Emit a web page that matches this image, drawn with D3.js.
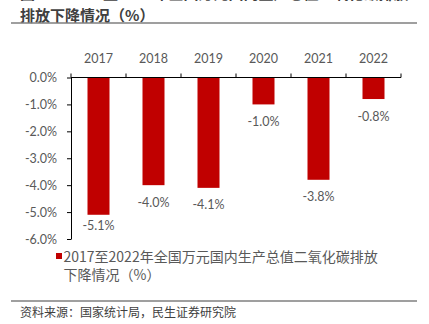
<!DOCTYPE html>
<html>
<head>
<meta charset="utf-8">
<script src="https://cdn.jsdelivr.net/npm/d3@7"></script>
<style>
  body { margin: 0; background: #fff; }
  svg { display: block; }
</style>
</head>
<body>
<div id="chart"></div>
<script>
// yearly drop in CO2 per 10k yuan GDP (%)
const years = ["2017", "2018", "2019", "2020", "2021", "2022"];
const values = [-5.1, -4.0, -4.1, -1.0, -3.8, -0.8];
const yTicks = [0, -1, -2, -3, -4, -5, -6];

const titleLines = ["图14：2017至2022年全国万元国内生产总值二氧化碳排放", "排放下降情况（%）"];
const legendLines = ["2017至2022年全国万元国内生产总值二氧化碳排放", "下降情况（%）"];
const sourceText = "资料来源：国家统计局，民生证券研究院";

const width = 429, height = 324;
const plot = { left: 71, right: 401, top: 77.5, bottom: 239 };

const numFont = "Lato, 'Liberation Sans', sans-serif";
const cjkFont = "'Noto Sans CJK SC', sans-serif";
const grey = "#595959";
const red = "#C00000";

let svg = d3.select("#chart").append("svg")
  .attr("width", width)
  .attr("height", height);

// header: title (first line runs off the top edge) and rule
svg.selectAll("text.title")
  .data(titleLines)
  .enter()
  .append("text")
    .attr("class", "title")
    .attr("x", 20)
    .attr("y", (d, i) => i == 0 ? -7.5 : 14)
    .attr("dominant-baseline", "central")
    .style("font-family", cjkFont)
    .style("font-size", "15px")
    .style("font-weight", "bold")
    .style("fill", "#404040")
    .text(d => d);

svg.append("line")
  .attr("x1", 11).attr("x2", 417)
  .attr("y1", 23).attr("y2", 23)
  .style("stroke", "#7f7f7f")
  .style("stroke-width", 1.6);

// scales
let xScale = d3.scaleBand()
  .domain(years)
  .range([plot.left, plot.right])
  .paddingInner(0.6)
  .paddingOuter(0.3);

let yScale = d3.scaleLinear()
  .domain([-6, 0])
  .range([plot.bottom, plot.top]);

// bars hang down from zero
svg.selectAll("rect.bar")
  .data(values)
  .enter()
  .append("rect")
    .attr("class", "bar")
    .attr("x", (d, i) => xScale(years[i]))
    .attr("y", yScale(0))
    .attr("width", xScale.bandwidth())
    .attr("height", d => yScale(d) - yScale(0))
    .style("fill", red);

// y axis
let yAxis = svg.append("g")
  .attr("transform", "translate(" + plot.left + ",0)")
  .call(d3.axisLeft(yScale)
    .tickValues(yTicks)
    .tickSize(4)
    .tickSizeOuter(0)
    .tickPadding(10)
    .tickFormat(d => d.toFixed(1) + "%"));
yAxis.select(".domain").style("stroke", "#000");
yAxis.selectAll("line").style("stroke", "#000");
yAxis.selectAll("text")
  .style("font-family", numFont)
  .style("font-size", "12.5px")
  .style("fill", grey);

// x axis along zero, ticks between categories pointing up
let zeroY = yScale(0);
svg.append("line")
  .attr("x1", plot.left).attr("x2", plot.right)
  .attr("y1", zeroY).attr("y2", zeroY)
  .style("stroke", "#000");

let bounds = years.map(d => xScale(d) - xScale.step() * xScale.paddingOuter());
bounds.push(plot.right);
svg.selectAll("line.xtick")
  .data(bounds)
  .enter()
  .append("line")
    .attr("class", "xtick")
    .attr("x1", d => d).attr("x2", d => d)
    .attr("y1", zeroY).attr("y2", zeroY - 4)
    .style("stroke", "#000");

svg.selectAll("text.year")
  .data(years)
  .enter()
  .append("text")
    .attr("class", "year")
    .attr("x", d => xScale(d) + xScale.bandwidth() / 2)
    .attr("y", 58)
    .attr("text-anchor", "middle")
    .attr("dominant-baseline", "central")
    .style("font-family", numFont)
    .style("font-size", "12.5px")
    .style("fill", grey)
    .text(d => d);

// value labels under bar ends, kept inside the plot
svg.selectAll("text.value")
  .data(values)
  .enter()
  .append("text")
    .attr("class", "value")
    .attr("x", (d, i) => xScale(years[i]) + xScale.bandwidth() / 2)
    .attr("y", d => Math.min(yScale(d) + 17, plot.bottom - 13.5))
    .attr("text-anchor", "middle")
    .attr("dominant-baseline", "central")
    .style("font-family", numFont)
    .style("font-size", "12.5px")
    .style("fill", grey)
    .text(d => d.toFixed(1) + "%");

// legend
svg.append("rect")
  .attr("x", 56).attr("y", 253)
  .attr("width", 6).attr("height", 6)
  .style("fill", red);

svg.selectAll("text.legend")
  .data(legendLines)
  .enter()
  .append("text")
    .attr("class", "legend")
    .attr("x", 63.5)
    .attr("y", (d, i) => 256 + i * 17.5)
    .attr("dominant-baseline", "central")
    .style("font-family", cjkFont)
    .style("font-size", "14px")
    .style("fill", grey)
    .text(d => d);

// footer
svg.append("line")
  .attr("x1", 11).attr("x2", 417)
  .attr("y1", 301).attr("y2", 301)
  .style("stroke", "#7f7f7f")
  .style("stroke-width", 1.6);

svg.append("text")
  .attr("x", 20)
  .attr("y", 311.5)
  .attr("dominant-baseline", "central")
  .style("font-family", cjkFont)
  .style("font-size", "12px")
  .style("fill", "#404040")
  .text(sourceText);
</script>
</body>
</html>
